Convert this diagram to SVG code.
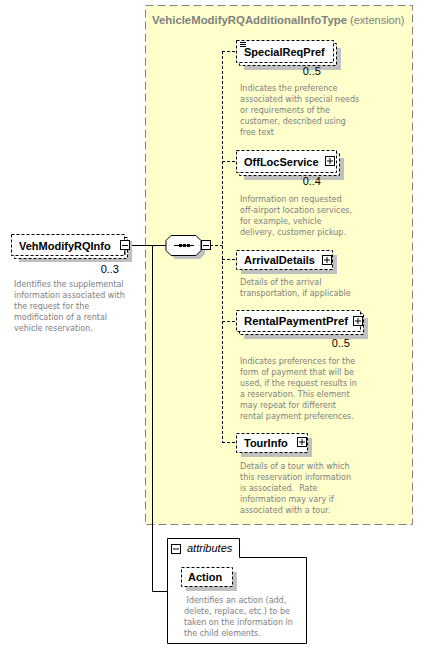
<svg xmlns="http://www.w3.org/2000/svg" width="448" height="661" viewBox="0 0 448 661">
<style>
.bg{fill:#ffffff}
.ext{fill:#ffffcc;stroke:#808080;stroke-width:1;stroke-dasharray:8,4}
.hdr{font-family:"Liberation Sans",Arial,sans-serif;font-size:11px;fill:#808080}
.box{fill:#ffffff;stroke:#000;stroke-width:1;stroke-dasharray:3,2}
.sh{fill:#c0c0c0}
.lbl{font-family:"Liberation Sans",Arial,sans-serif;font-size:11px;font-weight:bold;fill:#000}
.mult{font-family:"Liberation Sans",Arial,sans-serif;font-size:11px;fill:#000}
.desc{font-family:"DejaVu Sans Condensed","DejaVu Sans",sans-serif;font-stretch:condensed;font-size:8.9px;fill:#808080}
.ico{fill:#ffffff;stroke:#000;stroke-width:1}
.ln{fill:none;stroke:#000;stroke-width:1}
.dl{fill:none;stroke:#000;stroke-width:1;stroke-dasharray:3,2}
</style>
<rect class="bg" x="0" y="0" width="448" height="661"/>

<g id="extension">
<rect class="ext" x="145.5" y="5.5" width="267" height="519"/>
<text class="hdr" x="152" y="24"><tspan font-weight="bold" textLength="195" lengthAdjust="spacingAndGlyphs">VehicleModifyRQAdditionalInfoType</tspan> (extension)</text>
</g>

<g id="connectors">
<path class="ln" d="M129,245.5 H166"/>
<path class="ln" d="M152.5,245 V591.5 H167"/>
<path class="dl" d="M210,245.5 H222.5"/>
<path class="dl" d="M222.5,51 V442.5"/>
<path class="dl" d="M222,51.5 H236"/>
<path class="dl" d="M222,161.5 H236"/>
<path class="dl" d="M222,259.5 H236"/>
<path class="dl" d="M222,321.5 H236"/>
<path class="dl" d="M222,442.5 H236"/>
</g>

<g id="VehModifyRQInfo">
<rect class="sh" x="19" y="241" width="113" height="21"/>
<rect class="box" x="14.5" y="237.5" width="113" height="21"/>
<rect class="box" x="11.5" y="234.5" width="113" height="21"/>
<text class="lbl" x="19" y="250">VehModifyRQInfo</text>
<rect class="ico" x="120.5" y="240.5" width="9" height="9"/>
<path class="ln" d="M122,245.5 H128 M125,250 V255"/>
<text class="mult" x="119" y="273" text-anchor="end">0..3</text>
<text class="desc" x="14" y="287">Identifies the supplemental</text>
<text class="desc" x="14" y="298">information associated with</text>
<text class="desc" x="14" y="309">the request for the</text>
<text class="desc" x="14" y="320">modification of a rental</text>
<text class="desc" x="14" y="331">vehicle reservation.</text>
</g>

<g id="sequence">
<polygon class="sh" points="175,239 200,239 205,244 205,254 200,259 175,259 170,254 170,244"/>
<polygon class="ico" points="171,235.5 196,235.5 201,240.5 201,250.5 196,255.5 171,255.5 166,250.5 166,240.5"/>
<path class="ln" d="M174,245.5 H194"/>
<rect x="179" y="244" width="3" height="3" fill="#000"/>
<rect x="183" y="244" width="3" height="3" fill="#000"/>
<rect x="187" y="244" width="3" height="3" fill="#000"/>
<rect class="ico" x="201.5" y="240.5" width="9" height="9"/>
<path class="ln" d="M203,245.5 H209"/>
</g>

<g id="SpecialReqPref">
<rect class="sh" x="244" y="48" width="97" height="22"/>
<rect class="box" x="239.5" y="43.5" width="97" height="22"/>
<rect class="box" x="236.5" y="40.5" width="97" height="22"/>
<path class="ln" d="M240,42.5 H246 M240,44.5 H246 M240,46.5 H246"/>
<text class="lbl" x="244" y="56">SpecialReqPref</text>
<text class="mult" x="321" y="75" text-anchor="end">0..5</text>
<text class="desc" x="240" y="91">Indicates the preference</text>
<text class="desc" x="240" y="102">associated with special needs</text>
<text class="desc" x="240" y="113">or requirements of the</text>
<text class="desc" x="240" y="124">customer, described using</text>
<text class="desc" x="240" y="135">free text</text>
</g>

<g id="OffLocService">
<rect class="sh" x="244" y="158" width="100" height="22"/>
<rect class="box" x="239.5" y="153.5" width="100" height="22"/>
<rect class="box" x="236.5" y="150.5" width="100" height="22"/>
<text class="lbl" x="244" y="166">OffLocService</text>
<rect class="ico" x="325.5" y="156.5" width="9" height="9"/>
<path class="ln" d="M327,161 H333 M330,158 V164"/>
<text class="mult" x="321" y="185" text-anchor="end">0..4</text>
<text class="desc" x="240" y="202">Information on requested</text>
<text class="desc" x="240" y="213">off-airport location services,</text>
<text class="desc" x="240" y="224">for example, vehicle</text>
<text class="desc" x="240" y="235">delivery, customer pickup.</text>
</g>

<g id="ArrivalDetails">
<rect class="sh" x="241" y="255" width="96" height="19"/>
<rect class="box" x="236.5" y="250.5" width="96" height="19"/>
<text class="lbl" x="244" y="264">ArrivalDetails</text>
<rect class="ico" x="322.5" y="255.5" width="9" height="9"/>
<path class="ln" d="M324,260 H330 M327,257 V263"/>
<text class="desc" x="240" y="285">Details of the arrival</text>
<text class="desc" x="240" y="296">transportation, if applicable</text>
</g>

<g id="RentalPaymentPref">
<rect class="sh" x="244" y="318" width="124" height="21"/>
<rect class="box" x="239.5" y="313.5" width="124" height="21"/>
<rect class="box" x="236.5" y="310.5" width="124" height="21"/>
<text class="lbl" x="244" y="325" textLength="104" lengthAdjust="spacingAndGlyphs">RentalPaymentPref</text>
<rect class="ico" x="353.5" y="316.5" width="9" height="9"/>
<path class="ln" d="M355,321 H361 M358,318 V324"/>
<text class="mult" x="350" y="347" text-anchor="end">0..5</text>
<text class="desc" x="240" y="364">Indicates preferences for the</text>
<text class="desc" x="240" y="375">form of payment that will be</text>
<text class="desc" x="240" y="386">used, if the request results in</text>
<text class="desc" x="240" y="397">a reservation. This element</text>
<text class="desc" x="240" y="408">may repeat for different</text>
<text class="desc" x="240" y="419">rental payment preferences.</text>
</g>

<g id="TourInfo">
<rect class="sh" x="241" y="438" width="71" height="19"/>
<rect class="box" x="236.5" y="433.5" width="71" height="19"/>
<text class="lbl" x="244" y="447">TourInfo</text>
<rect class="ico" x="297.5" y="437.5" width="9" height="9"/>
<path class="ln" d="M299,442 H305 M302,439 V445"/>
<text class="desc" x="240" y="469">Details of a tour with which</text>
<text class="desc" x="240" y="480">this reservation information</text>
<text class="desc" x="240" y="491" xml:space="preserve">is associated.  Rate</text>
<text class="desc" x="240" y="502">information may vary if</text>
<text class="desc" x="240" y="513">associated with a tour.</text>
</g>

<g id="attributes">
<path class="ln" d="M167.5,538.5 H239.5 V557.5 H306.5 V643.5 H167.5 Z" style="fill:#ffffff"/>
<rect class="ico" x="171.5" y="544.5" width="9" height="9"/>
<path class="ln" d="M173,549 H179"/>
<text x="187" y="552" font-family="'Liberation Sans',Arial,sans-serif" font-size="11px" font-style="italic" fill="#000">attributes</text>
</g>

<g id="Action">
<rect class="sh" x="186" y="572" width="51" height="19"/>
<rect class="box" x="181.5" y="567.5" width="51" height="19"/>
<text class="lbl" x="188" y="581">Action</text>
<text class="desc" x="184" y="603" xml:space="preserve"> Identifies an action (add,</text>
<text class="desc" x="184" y="614">delete, replace, etc.) to be</text>
<text class="desc" x="184" y="625">taken on the information in</text>
<text class="desc" x="184" y="636">the child elements.</text>
</g>
</svg>
